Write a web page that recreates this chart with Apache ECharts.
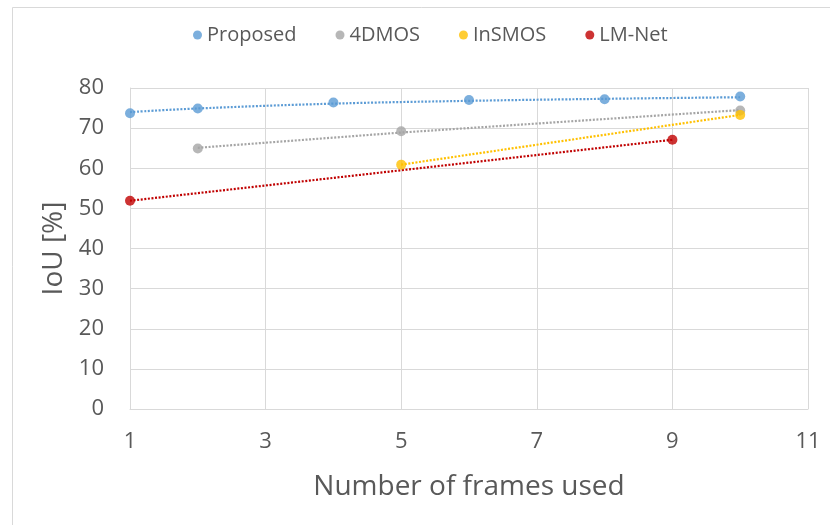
<!DOCTYPE html>
<html>
<head>
<meta charset="utf-8">
<script src="https://cdn.jsdelivr.net/npm/echarts@6/dist/echarts.min.js"></script>
<style>html,body{margin:0;padding:0;background:#fff;}#c{width:830px;height:525px;}</style>
</head>
<body>
<div id="c"></div>
<script>
// Measured points
const proposedPts = [[1, 73.7], [2, 74.9], [4, 76.4], [6, 77.0], [8, 77.2], [10, 77.9]];
const dmosPts = [[2, 64.9], [5, 69.2], [10, 74.4]];
const insmosPts = [[5, 60.9], [10, 73.3]];
const lmnetPts = [[1, 51.9], [9, 67.1]];
// Trendline values
const proposedTrend = [[1, 74.0], [2, 74.9], [4, 76.1], [6, 76.8], [8, 77.3], [10, 77.7]];
const dmosTrend = [[2, 65.1], [5, 68.9], [10, 74.5]];
const insmosTrend = [[5, 60.9], [10, 73.3]];
const lmnetTrend = [[1, 51.9], [9, 67.1]];
// Axis ticks
const xTicks = { min: 1, max: 11, interval: 2 };
const yTicks = { min: 0, max: 80, interval: 10 };

const names = ['Proposed', '4DMOS', 'InSMOS', 'LM-Net'];
const colors = ['#5B9BD5', '#A5A5A5', '#FFC000', '#C00000'];
const pts = [proposedPts, dmosPts, insmosPts, lmnetPts];
const trends = [proposedTrend, dmosTrend, insmosTrend, lmnetTrend];
const FONT = '"Open Sans"';

const series = [];
names.forEach((n, i) => {
  series.push({
    name: n + ' trend', type: 'line', data: trends[i], smooth: i === 0 ? 0.4 : false,
    symbol: 'none', silent: true, z: 2,
    lineStyle: { color: colors[i], width: 2.2, type: [2, 1.6], cap: 'butt' }
  });
});
names.forEach((n, i) => {
  series.push({
    name: n, type: 'scatter', data: pts[i], symbol: 'circle', symbolSize: 10, z: 3,
    itemStyle: { color: colors[i] }
  });
});

const chart = echarts.init(document.getElementById('c'), null, { renderer: 'canvas' });
chart.setOption({
  animation: false,
  backgroundColor: '#fff',
  color: colors,
  graphic: [{
    type: 'rect', left: 10, top: 5, shape: { width: 840, height: 540 },
    style: { fill: 'none', stroke: '#d9d9d9', lineWidth: 1 }, silent: true, z: -1
  }],
  legend: {
    data: names.map(n => ({ name: n, icon: 'circle' })),
    top: 20, left: 188, itemWidth: 9, itemHeight: 9, itemGap: 39,
    textStyle: { fontFamily: FONT, fontSize: 20, color: '#595959' }
  },
  grid: { left: 130, right: 22, top: 88, bottom: 116, containLabel: false },
  xAxis: {
    type: 'value', min: xTicks.min, max: xTicks.max, interval: xTicks.interval,
    name: 'Number of frames used', nameLocation: 'middle', nameGap: 64,
    nameTextStyle: { fontFamily: FONT, fontSize: 28, color: '#595959' },
    axisLine: { show: true, lineStyle: { color: '#d9d9d9', width: 1 } },
    axisTick: { show: false },
    axisLabel: { fontFamily: FONT, fontSize: 22, color: '#595959', margin: 22 },
    splitLine: { show: true, lineStyle: { color: '#d9d9d9', width: 1 } }
  },
  yAxis: {
    type: 'value', min: yTicks.min, max: yTicks.max, interval: yTicks.interval,
    name: 'IoU [%]', nameLocation: 'middle', nameGap: 62, nameRotate: 90,
    nameTextStyle: { fontFamily: FONT, fontSize: 28, color: '#595959' },
    axisLine: { show: true, lineStyle: { color: '#d9d9d9', width: 1 } },
    axisTick: { show: false },
    axisLabel: { fontFamily: FONT, fontSize: 22, color: '#595959', margin: 26 },
    splitLine: { show: true, lineStyle: { color: '#d9d9d9', width: 1 } }
  },
  series: series
});
</script>
</body>
</html>
